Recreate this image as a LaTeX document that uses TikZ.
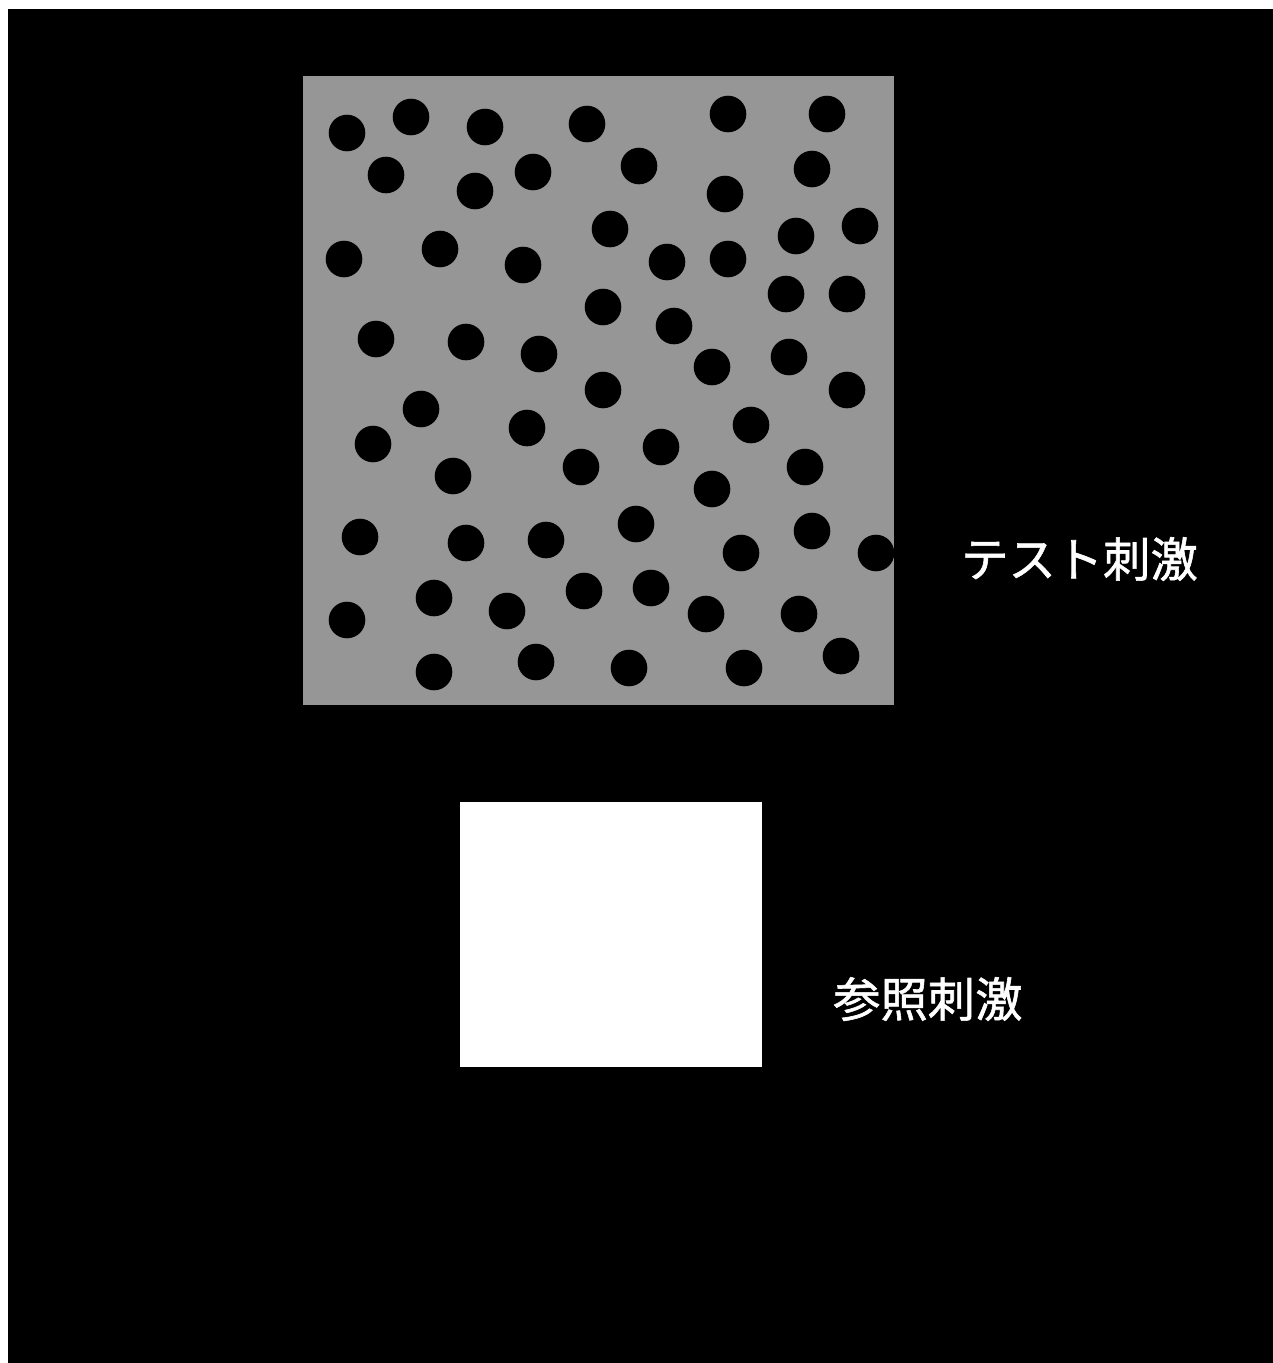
\documentclass[tikz,border=0pt]{standalone}
\usepackage{fontspec}
\newfontfamily\jpfont[FakeBold=1.2]{Noto Sans CJK JP}
\definecolor{stimgray}{RGB}{150,150,150}
\begin{document}
\begin{tikzpicture}[x=1pt,y=-1pt,
  dot/.style={fill=black},
  label/.style={text=white,font=\jpfont\fontsize{47.3}{56}\selectfont,inner sep=0pt,anchor=west}]
\useasboundingbox (0,0) rectangle (1273,1363);
\fill[white] (0,0) rectangle (1273,1363);
\fill[black] (8,9) rectangle (1273,1363);
\fill[stimgray] (303,76) rectangle (894,705);
\foreach \x/\y in {
347/133,411/117,485/127,587/124,728/114,827/114,
386/175,475/191,533/172,639/166,812/169,725/194,
344/259,440/249,523/265,610/229,667/262,728/259,796/236,860/226,
786/294,847/294,603/307,674/326,
376/339,466/342,539/354,712/367,789/357,
603/390,847/390,
421/409,373/444,527/428,453/476,581/467,751/425,661/447,805/467,712/489,
360/537,466/543,546/540,636/524,812/531,741/553,876/553,
434/598,507/611,584/591,347/620,651/588,706/614,799/614,
434/672,536/662,629/668,744/668,841/656}
  \fill[dot] (\x,\y) circle (18.3);
\fill[white] (460,802) rectangle (762,1067);
\node[label] (test) at (961,559) {テスト刺激};
\node[label] (ref) at (833,999) {参照刺激};
\end{tikzpicture}
\end{document}
